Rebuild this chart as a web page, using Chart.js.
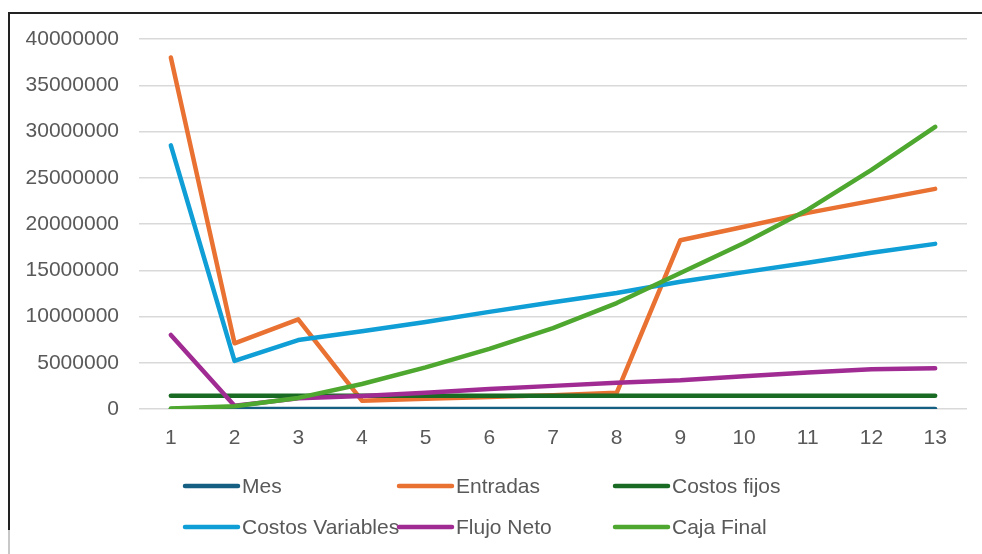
<!DOCTYPE html>
<html>
<head>
<meta charset="utf-8">
<script src="https://cdn.jsdelivr.net/npm/chart.js@4"></script>
<style>
  html, body { margin: 0; padding: 0; background: #fff; }
  #wrap { position: relative; width: 982px; height: 554px; overflow: hidden; }
  #frame { position: absolute; left: 8px; top: 12px; width: 980px; height: 516px;
           border-top: 2px solid #222; border-left: 2px solid #222; }
  #frameLow { position: absolute; left: 8px; top: 530px; width: 2px; height: 30px; background: #c8c8c8; }
  canvas { position: absolute; left: 0; top: 0; }
</style>
</head>
<body>
<div id="wrap">
  <div id="frame"></div>
  <div id="frameLow"></div>
  <canvas id="flujoChart" width="982" height="554"></canvas>
</div>
<script>
// Meses (categorías)
const meses = ['1', '2', '3', '4', '5', '6', '7', '8', '9', '10', '11', '12', '13'];

// Series
const mes = [1, 2, 3, 4, 5, 6, 7, 8, 9, 10, 11, 12, 13];
const entradas = [38000000, 7100000, 9700000, 900000, 1100000, 1300000, 1500000, 1750000, 18250000, 19700000, 21200000, 22500000, 23800000];
const costosFijos = [1440000, 1440000, 1440000, 1440000, 1440000, 1440000, 1440000, 1440000, 1440000, 1440000, 1440000, 1440000, 1440000];
const costosVariables = [28500000, 5200000, 7450000, 8400000, 9400000, 10500000, 11550000, 12550000, 13750000, 14800000, 15800000, 16900000, 17850000];
const flujoNeto = [8000000, 350000, 1150000, 1400000, 1750000, 2150000, 2500000, 2850000, 3100000, 3550000, 3950000, 4300000, 4400000];
const cajaFinal = [50000, 300000, 1200000, 2700000, 4500000, 6500000, 8750000, 11450000, 14700000, 17950000, 21550000, 25850000, 30500000];

// Y axis ticks
const yMax = 40000000;
const yStep = 5000000;

const font = "'Liberation Sans', Arial, sans-serif";
const gris = '#595959';

function serie(label, data, color, order) {
    return {
        label: label,
        data: data,
        borderColor: color,
        backgroundColor: color,
        borderWidth: 4.5,
        borderCapStyle: 'round',
        borderJoinStyle: 'round',
        pointRadius: 0,
        tension: 0,
        fill: false,
        order: order,
    };
}

// Leyenda en dos filas, como en Excel
const legendCols = [185, 399, 615];
const legendRows = [486, 527];
const leyendaPlugin = {
    id: 'leyenda',
    afterDraw(chart) {
        const ctx = chart.ctx;
        ctx.save();
        ctx.font = '21px ' + font;
        ctx.textBaseline = 'middle';
        chart.data.datasets.forEach((ds, i) => {
            const x = legendCols[i % 3];
            const y = legendRows[Math.floor(i / 3)];
            ctx.strokeStyle = ds.borderColor;
            ctx.lineWidth = 4.5;
            ctx.lineCap = 'round';
            ctx.beginPath();
            ctx.moveTo(x, y);
            ctx.lineTo(x + 53, y);
            ctx.stroke();
            ctx.fillStyle = gris;
            ctx.fillText(ds.label, x + 57, y + 1.5);
        });
        ctx.restore();
    }
};

const ctxFlujo = document.getElementById('flujoChart').getContext('2d');
const flujoChart = new Chart(ctxFlujo, {
    type: 'line',
    data: {
        labels: meses,
        datasets: [
            serie('Mes', mes, '#156082', 5),
            serie('Entradas', entradas, '#E97132', 4),
            serie('Costos fijos', costosFijos, '#196B24', 3),
            serie('Costos Variables', costosVariables, '#0F9ED5', 2),
            serie('Flujo Neto', flujoNeto, '#A02B93', 1),
            serie('Caja Final', cajaFinal, '#4EA72E', 0),
        ]
    },
    options: {
        responsive: false,
        animation: false,
        layout: {
            padding: { left: 0, right: 15, top: 39, bottom: 85 },
        },
        scales: {
            x: {
                offset: true,
                grid: { display: false, drawTicks: false },
                border: { display: false },
                ticks: {
                    color: gris,
                    font: { family: font, size: 21 },
                    padding: 17,
                    maxRotation: 0,
                },
                afterFit(scale) { scale.height = 60; },
            },
            y: {
                min: 0,
                max: yMax,
                grid: { color: '#d9d9d9', lineWidth: 1.5, drawTicks: false },
                border: { display: false },
                ticks: {
                    stepSize: yStep,
                    color: gris,
                    font: { family: font, size: 21 },
                    padding: 20,
                    callback: (v) => String(v),
                },
                afterFit(scale) { scale.width = 139; },
            },
        },
        plugins: {
            legend: { display: false },
            tooltip: { enabled: false },
        },
    },
    plugins: [leyendaPlugin],
});
</script>
</body>
</html>
